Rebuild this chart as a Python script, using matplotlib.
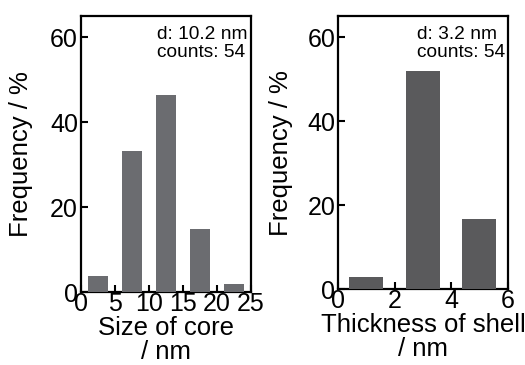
import matplotlib
matplotlib.use("Agg")
import matplotlib.pyplot as plt

plt.rcParams["font.family"] = ["Liberation Sans", "DejaVu Sans"]

# core size histogram (nm, %)
core_centers = [2.5, 7.5, 12.5, 17.5, 22.5]
core_freq = [3.7, 33.3, 46.3, 14.8, 1.9]
core_ticks = [0, 5, 10, 15, 20, 25]

# shell thickness histogram (nm, %)
shell_centers = [1, 3, 5]
shell_freq = [2.9, 51.9, 16.7]
shell_ticks = [0, 2, 4, 6]

yticks = [0, 20, 40, 60]


def style_axes(ax, xlim, xticks, xlabel, note, ylab_x, note_x):
    ax.set_xlim(*xlim)
    ax.set_ylim(0, 65)
    ax.set_xticks(xticks)
    ax.set_yticks(yticks)
    ax.tick_params(direction="in", length=5, width=1.5, labelsize=18, pad=2)
    ax.tick_params(axis="x", pad=0)
    for s in ax.spines.values():
        s.set_linewidth(1.6)
    ax.set_xlabel(xlabel, fontsize=18.5, labelpad=0, linespacing=1.0)
    ax.set_ylabel("Frequency / %", fontsize=18.5)
    ax.yaxis.set_label_coords(ylab_x, 0.5)
    ax.text(note_x, 0.965, note, transform=ax.transAxes, ha="left", va="top",
            fontsize=13.8, linespacing=1.1)


fig = plt.figure(figsize=(5.25, 3.65), dpi=100)

ax1 = fig.add_axes([0.154, 0.2, 0.324, 0.756])
ax1.bar(core_centers, core_freq, width=3, color="#6b6c70", zorder=3)
style_axes(ax1, (0, 25), core_ticks, "Size of core\n/ nm", "d: 10.2 nm\ncounts: 54",
           -0.28, 0.447)

ax2 = fig.add_axes([0.644, 0.208, 0.323, 0.748])
ax2.bar(shell_centers, shell_freq, width=1.2, color="#5a5a5c", zorder=3)
style_axes(ax2, (0, 6), shell_ticks, "Thickness of shell\n/ nm", "d: 3.2 nm\ncounts: 54",
           -0.265, 0.466)

fig.savefig("out.png", dpi=100)
